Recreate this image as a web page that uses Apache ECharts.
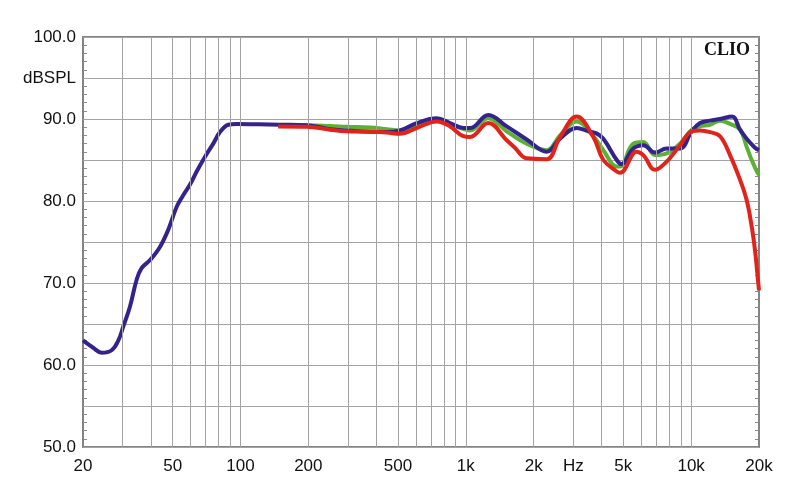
<!DOCTYPE html>
<html>
<head>
<meta charset="utf-8">
<script src="https://cdn.jsdelivr.net/npm/echarts@6/dist/echarts.min.js"></script>
<style>
html,body{margin:0;padding:0;background:#fff;}
#chart{width:800px;height:504px;}
</style>
</head>
<body>
<div id="chart"></div>
<script>
// X tick labels (Hz) and their display text
const xLabelFreqs = [20, 50, 100, 200, 500, 1000, 2000, 3000, 5000, 10000, 20000];
const xLabelTexts = ['20', '50', '100', '200', '500', '1k', '2k', 'Hz', '5k', '10k', '20k'];
// Vertical grid frequencies
const gridFreqs = [30, 40, 50, 60, 70, 80, 90, 100, 200, 300, 400, 500, 600, 700, 800, 900,
  1000, 2000, 3000, 4000, 5000, 6000, 7000, 8000, 9000, 10000];

// Blue trace
const freqBlue = [20, 22.2, 24.2, 26.8, 28.7, 30.2, 32.3, 34.6, 36.4, 39.7, 43.9, 47.8, 52.1, 55.7,
  59.7, 63.9, 69.6, 75.7, 81.1, 88.3, 96.2, 120, 150, 197, 250, 296, 376, 446, 510, 605, 743,
  851, 975, 1044, 1258, 1519, 1863, 2285, 2618, 3105, 3500, 3800, 4076, 4673, 4900, 5536,
  6133, 6911, 7786, 8924, 10055, 10945, 12126, 13429, 15200, 16470, 17636, 19200, 20000];
const dbBlue = [63.0, 62.1, 61.5, 61.8, 63.0, 64.7, 67.1, 70.4, 71.8, 72.8, 74.4, 76.5, 79.3, 80.7,
  82.0, 83.6, 85.4, 87.0, 88.4, 89.3, 89.4, 89.35, 89.3, 89.25, 88.75, 88.6, 88.45, 88.4, 88.6, 89.5, 90.1,
  89.5, 88.9, 88.9, 90.5, 89.1, 87.5, 86.0, 87.6, 88.9, 88.5, 88.25, 87.6, 85.0, 84.5, 86.4,
  86.8, 85.9, 86.4, 86.4, 88.5, 89.5, 89.8, 90.0, 90.3, 88.7, 87.6, 86.5, 86.2];

// Green trace
const freqGreen = [147, 197, 250, 296, 376, 446, 510, 605, 743, 851, 975, 1044, 1258, 1519, 1863,
  2285, 2618, 3105, 3679, 4076, 4673, 4832, 5536, 6133, 6911, 7786, 8924, 10055, 10945, 12126,
  13429, 14871, 16470, 17636, 18559, 19656, 20000];
const dbGreen = [89.2, 89.25, 89.15, 89.05, 88.95, 88.75, 88.6, 89.3, 89.9, 89.4, 88.8, 88.6, 90.1, 88.5, 87.0,
  86.2, 88.0, 89.7, 87.9, 86.2, 84.2, 84.2, 87.0, 87.2, 85.6, 85.8, 87.0, 88.7, 89.1, 89.3,
  89.8, 89.4, 88.7, 86.6, 85.0, 83.5, 83.2];

// Red trace
const freqRed = [147, 197, 250, 296, 376, 446, 510, 605, 743, 851, 975, 1044, 1258, 1519, 1650, 1863,
  2285, 2618, 3105, 3679, 4076, 4673, 4832, 5536, 5700, 6133, 6911, 7786, 8924, 10055, 10945,
  12126, 13429, 14871, 16470, 17636, 18559, 19199, 19656, 20000];
const dbRed = [89.1, 89.05, 88.7, 88.5, 88.45, 88.35, 88.2, 88.9, 89.7, 89.1, 87.9, 87.8, 89.5, 87.4, 86.5, 85.2,
  85.1, 87.8, 90.3, 87.8, 85.0, 83.6, 83.45, 85.8, 86.0, 85.6, 83.8, 84.8, 86.8, 88.5, 88.6,
  88.4, 87.9, 85.6, 82.6, 80.1, 76.9, 74.0, 71.2, 69.1];

// Y labels
const yMajor = [50, 60, 70, 80, 90, 100];
const yUnitAt = 95;
const yUnit = 'dBSPL';

function pairs(f, d) { return f.map((v, i) => [v, d[i]]); }

const chart = echarts.init(document.getElementById('chart'), null, { renderer: 'canvas' });
const gridColor = '#a3a3a3';
const font = 'Liberation Sans, Arial, sans-serif';

chart.setOption({
  animation: false,
  backgroundColor: '#ffffff',
  title: {
    text: 'CLIO', right: 45, top: 36,
    textStyle: { fontFamily: 'Liberation Serif, DejaVu Serif, serif', fontWeight: 'bold', fontSize: 18, color: '#111' }
  },
  grid: { left: 83, right: 41, top: 37, bottom: 57, show: true, borderColor: '#838383', borderWidth: 2, backgroundColor: 'transparent' },
  xAxis: {
    type: 'log', logBase: 10, min: 20, max: 20000,
    axisLine: { show: false },
    axisTick: { show: false },
    splitLine: { show: false },
    minorSplitLine: { show: false },
    axisLabel: {
      customValues: xLabelFreqs,
      formatter: function (v) {
        for (let i = 0; i < xLabelFreqs.length; i++) {
          if (Math.abs(xLabelFreqs[i] - v) / xLabelFreqs[i] < 1e-3) return xLabelTexts[i];
        }
        return '';
      },
      color: '#111', fontSize: 17, fontFamily: font, margin: 11, showMinLabel: true, showMaxLabel: true
    }
  },
  yAxis: [{
    type: 'value', min: 50, max: 100, interval: 5, position: 'left',
    axisLine: { show: false },
    axisTick: { show: false, inside: true },
    minorTick: { show: true, splitNumber: 5, length: 4, lineStyle: { color: '#888' } },
    splitLine: { show: true, lineStyle: { color: gridColor, width: 1 } },
    axisLabel: {
      formatter: function (v) {
        if (Math.abs(v - yUnitAt) < 1e-6) return yUnit;
        if (yMajor.indexOf(Math.round(v)) >= 0) return v.toFixed(1);
        return '';
      },
      color: '#111', fontSize: 17, fontFamily: font, margin: 7
    }
  }, {
    type: 'value', min: 50, max: 100, interval: 5, position: 'right',
    axisLine: { show: false },
    axisTick: { show: false, inside: true },
    minorTick: { show: true, splitNumber: 5, length: 4, lineStyle: { color: '#888' } },
    splitLine: { show: false },
    axisLabel: { show: false }
  }],
  series: [{
    name: 'grid', type: 'line', data: [], silent: true,
    markLine: {
      silent: true, symbol: ['none', 'none'], animation: false,
      label: { show: false },
      lineStyle: { color: gridColor, width: 1, type: 'solid' },
      emphasis: { disabled: true },
      data: gridFreqs.map(f => ({ xAxis: f }))
    }
  }, {
    name: 'green', type: 'line', data: pairs(freqGreen, dbGreen), smooth: 0.4, showSymbol: false,
    lineStyle: { color: '#5cb034', width: 4 }, itemStyle: { color: '#5cb034' }, z: 3
  }, {
    name: 'blue', type: 'line', data: pairs(freqBlue, dbBlue), smooth: 0.4, showSymbol: false,
    lineStyle: { color: '#33238c', width: 4 }, itemStyle: { color: '#33238c' }, z: 4
  }, {
    name: 'red', type: 'line', data: pairs(freqRed, dbRed), smooth: 0.4, showSymbol: false,
    lineStyle: { color: '#e2231c', width: 4 }, itemStyle: { color: '#e2231c' }, z: 5
  }]
});
</script>
</body>
</html>
